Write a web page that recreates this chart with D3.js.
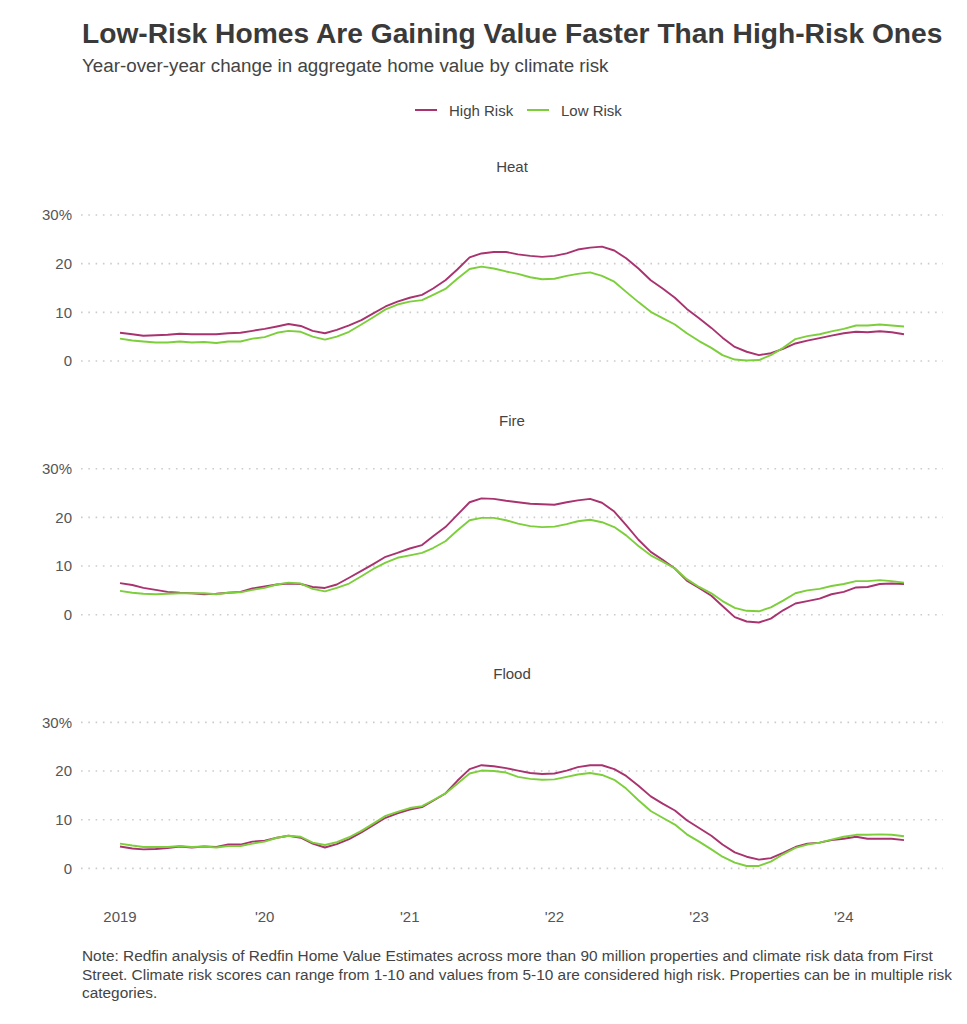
<!DOCTYPE html>
<html>
<head>
<meta charset="utf-8">
<script src="https://cdn.jsdelivr.net/npm/d3@7"></script>
<style>
  html, body { margin: 0; padding: 0; background: #fff; }
  svg { display: block; font-family: "Liberation Sans", Arial, Helvetica, sans-serif; }
</style>
</head>
<body>
<svg id="chart" width="967" height="1024"></svg>
<script>
// ---- Data (monthly, Jan 2019 – Jun 2024) ----
const startMonth = "2019-01";
const endMonth = "2024-06";
const panels = ["Heat", "Fire", "Flood"];
const seriesNames = ["High Risk", "Low Risk"];
const seriesColors = ["#a8336f", "#7ccf3a"];
const yTicks = [0, 10, 20, 30];
const xTickLabels = ["2019", "'20", "'21", "'22", "'23", "'24"];

const heatHigh = [5.8,5.5,5.2,5.3,5.4,5.6,5.5,5.5,5.5,5.7,5.8,6.2,6.6,7.1,7.6,7.2,6.2,5.7,6.4,7.3,8.4,9.8,11.2,12.2,13.0,13.6,14.9,16.6,18.8,21.3,22.1,22.4,22.4,21.9,21.6,21.4,21.6,22.1,22.9,23.3,23.5,22.7,21.1,19.0,16.6,14.9,13.0,10.7,8.8,6.8,4.8,2.9,1.9,1.2,1.6,2.5,3.6,4.2,4.7,5.2,5.7,6.0,5.9,6.1,5.9,5.5];
const heatLow = [4.6,4.2,4.0,3.8,3.8,4.0,3.8,3.9,3.7,4.0,4.0,4.6,4.9,5.8,6.2,6.0,5.0,4.4,5.0,6.0,7.5,9.0,10.6,11.6,12.2,12.5,13.6,14.8,16.9,18.9,19.4,19.0,18.4,17.9,17.2,16.8,16.9,17.5,17.9,18.2,17.5,16.3,14.2,12.1,10.1,8.8,7.5,5.7,4.1,2.7,1.2,0.3,0.1,0.2,1.2,2.7,4.5,5.1,5.5,6.1,6.6,7.3,7.3,7.5,7.3,7.1];
const fireHigh = [6.5,6.1,5.5,5.1,4.7,4.5,4.4,4.2,4.3,4.5,4.7,5.4,5.8,6.2,6.4,6.3,5.7,5.5,6.2,7.6,9.0,10.4,11.9,12.7,13.6,14.3,16.1,18.0,20.5,23.1,23.9,23.8,23.4,23.1,22.8,22.7,22.6,23.1,23.5,23.8,23.0,21.2,18.4,15.4,12.9,11.3,9.5,7.0,5.5,3.9,1.8,-0.5,-1.4,-1.6,-0.8,0.9,2.3,2.8,3.3,4.2,4.7,5.6,5.7,6.3,6.4,6.3];
const fireLow = [4.9,4.5,4.3,4.2,4.3,4.4,4.4,4.4,4.2,4.5,4.6,5.1,5.5,6.2,6.6,6.4,5.3,4.8,5.5,6.4,7.9,9.4,10.7,11.7,12.2,12.7,13.7,15.1,17.3,19.4,19.9,19.9,19.4,18.7,18.2,18.0,18.1,18.6,19.2,19.5,19.0,18.0,16.3,14.1,12.2,10.9,9.5,7.3,5.7,4.4,2.8,1.4,0.8,0.7,1.5,2.9,4.4,5.0,5.3,5.9,6.3,6.9,6.9,7.1,6.9,6.6];
const floodHigh = [4.5,4.1,3.9,4.0,4.2,4.5,4.3,4.5,4.4,4.9,4.9,5.5,5.7,6.3,6.7,6.3,5.1,4.3,5.0,6.0,7.4,8.9,10.4,11.3,12.1,12.6,13.9,15.4,18.0,20.4,21.2,21.0,20.6,20.1,19.6,19.4,19.5,20.1,20.8,21.2,21.2,20.4,19.0,17.0,14.8,13.3,11.9,9.9,8.3,6.7,4.9,3.3,2.4,1.8,2.1,3.2,4.4,5.1,5.3,5.8,6.1,6.5,6.1,6.1,6.1,5.8];
const floodLow = [5.1,4.7,4.4,4.4,4.4,4.6,4.4,4.5,4.3,4.6,4.6,5.1,5.5,6.3,6.7,6.5,5.3,4.8,5.4,6.4,7.7,9.2,10.8,11.6,12.4,12.8,14.0,15.4,17.4,19.5,20.1,20.0,19.7,18.8,18.4,18.2,18.3,18.8,19.3,19.6,19.2,18.2,16.4,14.0,11.8,10.4,9.0,7.0,5.5,3.9,2.4,1.2,0.5,0.5,1.4,2.9,4.2,4.9,5.3,5.9,6.5,6.9,6.9,7.0,6.9,6.6];

const title = "Low-Risk Homes Are Gaining Value Faster Than High-Risk Ones";
const subtitle = "Year-over-year change in aggregate home value by climate risk";
const noteLines = [
  "Note: Redfin analysis of Redfin Home Value Estimates across more than 90 million properties and climate risk data from First",
  "Street. Climate risk scores can range from 1-10 and values from 5-10 are considered high risk. Properties can be in multiple risk",
  "categories."
];

const panelData = {
  "Heat": [heatHigh, heatLow],
  "Fire": [fireHigh, fireLow],
  "Flood": [floodHigh, floodLow]
};

// ---- Layout ----
const svg = d3.select("#chart");
const parseM = d3.timeParse("%Y-%m");
const months = d3.timeMonth.range(parseM(startMonth), d3.timeMonth.offset(parseM(endMonth), 1));

const x = d3.scaleTime()
  .domain([months[0], months[months.length - 1]])
  .range([120, 904]);
const panelLeft = 81, panelRight = 943;

const zero0 = 361, panelStep = 253.7, unit = 4.867;

// Title / subtitle
svg.append("text").attr("x", 82).attr("y", 43)
  .attr("font-size", 28.2).attr("font-weight", "bold").attr("fill", "#3a3a3a")
  .text(title);
svg.append("text").attr("x", 82).attr("y", 72)
  .attr("font-size", 18.8).attr("fill", "#444")
  .text(subtitle);

// Legend
const legend = svg.append("g");
const legItems = [
  { name: seriesNames[0], color: seriesColors[0], lx: 415, tx: 449 },
  { name: seriesNames[1], color: seriesColors[1], lx: 527, tx: 561 }
];
legItems.forEach(d => {
  legend.append("line").attr("x1", d.lx).attr("x2", d.lx + 22)
    .attr("y1", 110).attr("y2", 110)
    .attr("stroke", d.color).attr("stroke-width", 2);
  legend.append("text").attr("x", d.tx).attr("y", 115.5)
    .attr("font-size", 15).attr("fill", "#444").text(d.name);
});

panels.forEach((p, pi) => {
  const zeroY = zero0 + panelStep * pi;
  const y = d3.scaleLinear().domain([0, 30]).range([zeroY, zeroY - 30 * unit]);
  const g = svg.append("g");

  // strip label
  g.append("text").attr("x", (panelLeft + panelRight) / 2).attr("y", y(30) - 43)
    .attr("text-anchor", "middle").attr("font-size", 15).attr("fill", "#444")
    .text(p);

  // gridlines
  g.selectAll(".grid").data(yTicks).join("line")
    .attr("x1", panelLeft).attr("x2", panelRight)
    .attr("y1", d => y(d)).attr("y2", d => y(d))
    .attr("stroke", "#cccccc").attr("stroke-width", 1.6)
    .attr("stroke-dasharray", "1.6,5.7");

  // y axis labels
  g.selectAll(".ylab").data(yTicks).join("text")
    .attr("x", 72).attr("y", d => y(d)).attr("dy", "0.35em")
    .attr("text-anchor", "end").attr("font-size", 15).attr("fill", "#555")
    .text(d => d === 30 ? d + "%" : d);

  // lines
  panelData[p].forEach((vals, si) => {
    g.append("path")
      .attr("d", d3.line().x((d, i) => x(months[i])).y(d => y(d))(vals))
      .attr("fill", "none").attr("stroke", seriesColors[si])
      .attr("stroke-width", 1.9).attr("stroke-linejoin", "round");
  });
});

// x axis labels (bottom)
const yearTicks = d3.timeYear.range(parseM(startMonth), d3.timeMonth.offset(parseM(endMonth), 1));
svg.selectAll(".xlab").data(yearTicks).join("text")
  .attr("x", d => x(d)).attr("y", 922)
  .attr("text-anchor", "middle").attr("font-size", 15).attr("fill", "#555")
  .text((d, i) => xTickLabels[i]);

// Note
svg.selectAll(".note").data(noteLines).join("text")
  .attr("x", 82).attr("y", (d, i) => 961 + i * 18.5)
  .attr("font-size", 15.4).attr("fill", "#444")
  .text(d => d);
</script>
</body>
</html>
